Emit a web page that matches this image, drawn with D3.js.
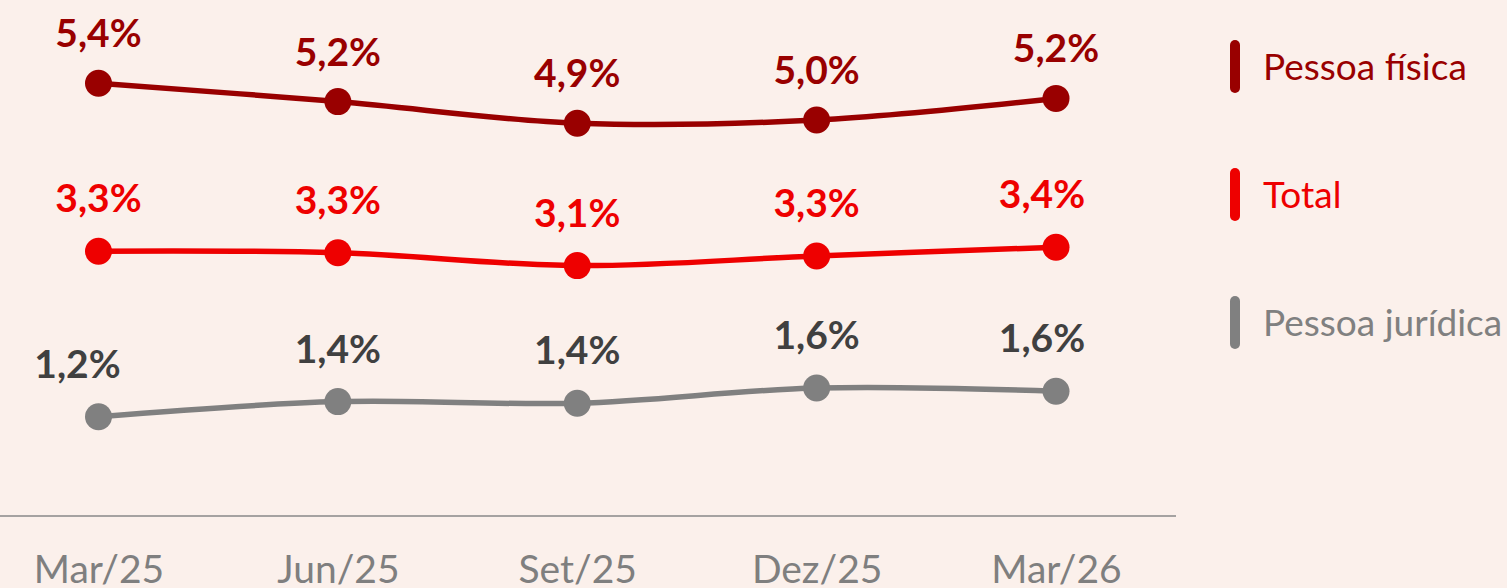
<!DOCTYPE html>
<html>
<head>
<meta charset="utf-8">
<title>Inadimplência</title>
<script src="https://cdn.jsdelivr.net/npm/d3@7"></script>
<style>
  html, body { margin: 0; padding: 0; background: #FBF0EB; }
  svg { display: block; font-family: Lato, "Open Sans", sans-serif; }
  .lbl { font-weight: bold; font-size: 39px; text-anchor: middle; }
  .tick text { fill: #7F7F7F; font-size: 39px; }
  .leg { font-size: 37px; }
</style>
</head>
<body>
<svg id="chart" width="1507" height="588"></svg>
<script>
// categories and series (values in %)
var categories = ["Mar/25", "Jun/25", "Set/25", "Dez/25", "Mar/26"];
var pessoaFisica = [5.41, 5.18, 4.91, 4.95, 5.22];
var total = [3.31, 3.29, 3.13, 3.25, 3.36];
var pessoaJuridica = [1.24, 1.43, 1.41, 1.60, 1.56];
var seriesNames = ["Pessoa física", "Total", "Pessoa jurídica"];

var series = [
  { name: seriesNames[0], values: pessoaFisica, line: "#990000", text: "#990000", dy: -36 },
  { name: seriesNames[1], values: total, line: "#EE0000", text: "#EE0000", dy: -39 },
  { name: seriesNames[2], values: pessoaJuridica, line: "#808080", text: "#404040", dy: -39 }
];

var svg = d3.select("#chart");

var x = d3.scalePoint().domain(categories).range([98.5, 1056]);
var y = d3.scaleLinear().domain([0, 6]).range([516, 36]);

// axis line
svg.append("line")
  .attr("x1", 0).attr("x2", 1176)
  .attr("y1", y(0)).attr("y2", y(0))
  .attr("stroke", "#888").attr("stroke-width", 1.5);

var xAxis = svg.append("g")
  .attr("transform", "translate(0," + y(0) + ")")
  .call(d3.axisBottom(x).tickSize(0).tickPadding(39));
xAxis.select(".domain").remove();
xAxis.selectAll("text").attr("font-family", "Lato, sans-serif");

var line = d3.line()
  .x(function(d, i) { return x(categories[i]); })
  .y(function(d) { return y(d); })
  .curve(d3.curveCardinal.tension(0));

var fmt = d3.format(".1f");

// small label nudges, like the original layout
function labelDx(s, i) {
  if (s === 2 && i === 0) return -21;
  if (s > 0 && i === categories.length - 1) return -14;
  return 0;
}

series.forEach(function(s, si) {
  var g = svg.append("g");
  g.append("path")
    .attr("d", line(s.values))
    .attr("fill", "none")
    .attr("stroke", s.line)
    .attr("stroke-width", 5.5);

  g.selectAll("circle")
    .data(s.values)
    .enter()
    .append("circle")
    .attr("cx", function(d, i) { return x(categories[i]); })
    .attr("cy", function(d) { return y(d); })
    .attr("r", 13.5)
    .attr("fill", s.line);

  g.selectAll(".lbl")
    .data(s.values)
    .enter()
    .append("text")
    .attr("class", "lbl")
    .attr("x", function(d, i) { return x(categories[i]) + labelDx(si, i); })
    .attr("y", function(d) { return y(d) + s.dy; })
    .attr("fill", s.text)
    .text(function(d) { return fmt(d).replace(".", ",") + "%"; });
});

// legend
var legendY = [40, 168, 296];
var legend = svg.selectAll(".legItem")
  .data(series)
  .enter()
  .append("g")
  .attr("class", "legItem")
  .attr("transform", function(d, i) { return "translate(1230," + legendY[i] + ")"; });

legend.append("rect")
  .attr("width", 10).attr("height", 53)
  .attr("rx", 5)
  .attr("fill", function(d) { return d.line; });

legend.append("text")
  .attr("class", "leg")
  .attr("x", 33)
  .attr("y", 40)
  .attr("fill", function(d) { return d.line; })
  .text(function(d) { return d.name; });
</script>
</body>
</html>
